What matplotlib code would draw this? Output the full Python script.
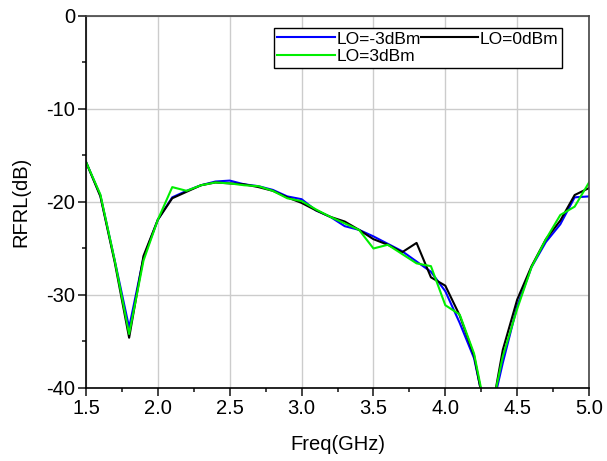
import numpy as np
import matplotlib

matplotlib.use("Agg")
import matplotlib.pyplot as plt
from matplotlib.ticker import MultipleLocator, FormatStrFormatter

plt.rcParams["font.family"] = ["Liberation Sans", "DejaVu Sans"]
plt.rcParams["axes.unicode_minus"] = False

# frequency points (GHz)
freq = [1.5, 1.6, 1.7, 1.8, 1.9, 2.0, 2.1, 2.2, 2.3, 2.4, 2.5, 2.6,
        2.7, 2.8, 2.9, 3.0, 3.1, 3.2, 3.3, 3.4, 3.5, 3.6, 3.7, 3.8,
        3.9, 4.0, 4.1, 4.2, 4.3, 4.4, 4.5, 4.6, 4.7, 4.8, 4.9, 5.0]

# RF return loss (dB) for each LO drive level
rfrl_lo_m3 = [-15.7, -19.3, -26.3, -33.5, -26.0, -21.9, -19.5, -18.8, -18.2, -17.8, -17.7, -18.1,
              -18.3, -18.7, -19.4, -19.7, -20.9, -21.6, -22.6, -23.0, -23.7, -24.5, -25.3, -26.4,
              -27.5, -29.6, -33.0, -36.8, -44.0, -37.3, -31.2, -27.0, -24.3, -22.4, -19.5, -19.4]
rfrl_lo_0 = [-15.7, -19.4, -26.5, -34.6, -25.8, -21.9, -19.6, -18.9, -18.2, -17.9, -18.0, -18.1,
             -18.4, -18.8, -19.5, -20.1, -20.9, -21.6, -22.1, -23.0, -24.0, -24.6, -25.4, -24.4,
             -28.1, -29.0, -32.2, -36.5, -44.5, -35.9, -30.5, -26.9, -24.0, -22.0, -19.25, -18.5]
rfrl_lo_3 = [-15.7, -19.2, -26.3, -34.2, -26.3, -21.9, -18.4, -18.8, -18.2, -17.9, -18.0, -18.2,
             -18.3, -18.8, -19.6, -19.9, -20.8, -21.6, -22.3, -23.0, -25.0, -24.6, -25.6, -26.6,
             -26.9, -31.1, -32.1, -36.3, -44.0, -36.6, -31.5, -27.0, -24.0, -21.4, -20.5, -17.9]

labels = ["LO=-3dBm", "LO=0dBm", "LO=3dBm"]

fig = plt.figure(figsize=(6.07, 4.61), dpi=100)
ax = fig.add_axes([0.1417, 0.1584, 0.8287, 0.8069])

l1, = ax.plot(freq, rfrl_lo_m3, color="#0000ff", linewidth=1.5, label=labels[0])
l2, = ax.plot(freq, rfrl_lo_0, color="black", linewidth=1.5, label=labels[1])
l3, = ax.plot(freq, rfrl_lo_3, color="#00ee00", linewidth=1.5, label=labels[2])

ax.set_xlim(1.5, 5.0)
ax.set_ylim(-40, 0)
ax.xaxis.set_major_locator(MultipleLocator(0.5))
ax.xaxis.set_minor_locator(MultipleLocator(0.25))
ax.yaxis.set_major_locator(MultipleLocator(10))
ax.yaxis.set_minor_locator(MultipleLocator(5))
ax.xaxis.set_major_formatter(FormatStrFormatter("%.1f"))

ax.grid(True, which="major", color="#cccccc", linewidth=1.0)
ax.set_axisbelow(True)

ax.tick_params(which="both", direction="out", labelsize=14.5, width=1.2,
               color="#222222", pad=2)
ax.tick_params(which="major", length=6)
ax.tick_params(which="minor", length=3)
for s in ax.spines.values():
    s.set_linewidth(1.2)
ax.spines["right"].set_color("#444444")
ax.spines["top"].set_color("#444444")

ax.set_xlabel("Freq(GHz)", fontsize=14.5, labelpad=12)
ax.set_ylabel("RFRL(dB)", fontsize=14.5, labelpad=11)

# column-major fill: first column holds -3dBm and 3dBm, second holds 0dBm
leg = ax.legend([l1, l3, l2], [labels[0], labels[2], labels[1]],
                ncol=2, loc="upper right", bbox_to_anchor=(0.946, 0.968),
                borderaxespad=0, fontsize=12.5, frameon=True, fancybox=False,
                edgecolor="black", framealpha=1, handlelength=3.3,
                handletextpad=0.1, columnspacing=0.0, labelspacing=0.15,
                borderpad=0.2)
leg.get_frame().set_linewidth(1.0)

fig.savefig("out.png", dpi=100)
